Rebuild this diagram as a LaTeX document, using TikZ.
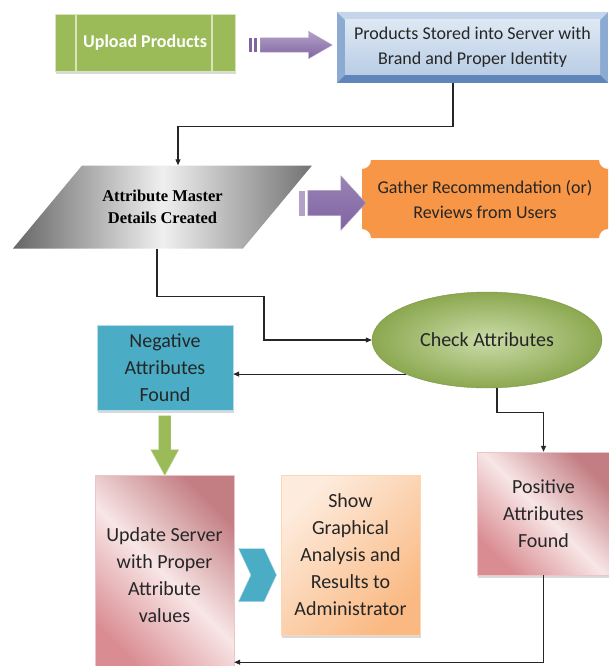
\documentclass[tikz,border=0pt]{standalone}
\usepackage{fontspec}
\setmainfont{Carlito}
\newfontfamily\serifbold{Liberation Serif}
\usetikzlibrary{shapes, shapes.arrows, shapes.symbols, arrows.meta, positioning, calc, shadows}

\definecolor{leafgreen}{RGB}{155, 187, 89}
\definecolor{leaflight}{RGB}{215, 228, 189}
\definecolor{grape}{RGB}{128, 100, 162}
\definecolor{grapelight}{RGB}{179, 162, 199}
\definecolor{skyface}{RGB}{222, 232, 244}
\definecolor{skymid}{RGB}{185, 205, 229}
\definecolor{skydeep}{RGB}{140, 170, 210}
\definecolor{skyedge}{RGB}{95, 133, 186}
\definecolor{tangerine}{RGB}{247, 150, 70}
\definecolor{teal}{RGB}{75, 172, 198}
\definecolor{teallight}{RGB}{183, 222, 232}
\definecolor{rosedeep}{RGB}{217, 140, 146}
\definecolor{roselight}{RGB}{248, 230, 230}
\definecolor{peach}{RGB}{250, 185, 130}
\definecolor{peachlight}{RGB}{253, 236, 222}
\definecolor{inkgray}{RGB}{38, 38, 38}

\begin{document}
\begin{tikzpicture}[x=1pt, y=-1pt,
  box/.style={rectangle, inner sep=2pt, align=center, text=inkgray, font=\fontsize{20}{27}\selectfont},
  topfont/.style={font=\fontsize{18}{25}\selectfont},
  softshadow/.style={drop shadow={shadow xshift=1pt, shadow yshift=-3pt, fill=black!25, opacity=0.6}},
  rosebox/.style={box, draw=rosedeep!50, left color=rosedeep, right color=rosedeep!90!black, middle color=roselight, shading angle=135, softshadow},
  link/.style={draw=black!85, line width=1.1pt, -{Triangle[length=6pt, width=5pt]}},
  blockarrow/.style={single arrow, inner sep=#1},
]
  \useasboundingbox (0,0) rectangle (608,666);

  % top row
  \node[box, font={\bfseries\fontsize{18}{25}\selectfont}, text=white, fill=leafgreen, draw=leaflight, minimum width=180pt, minimum height=57pt, softshadow,
    path picture={
      \draw[leaflight, line width=2pt] ([shift={(21,0)}]path picture bounding box.north west) -- ([shift={(21,0)}]path picture bounding box.south west);
      \draw[leaflight, line width=2pt] ([shift={(-23,0)}]path picture bounding box.north east) -- ([shift={(-23,0)}]path picture bounding box.south east);
    }] (upload) at (145,42.5) {Upload Products};
  \node[box, topfont, minimum width=271pt, minimum height=71pt, fill=skydeep,
    path picture={
      \fill[skyface!70!skydeep] (path picture bounding box.north west) -- (path picture bounding box.north east) -- ([shift={(-8,8)}]path picture bounding box.north east) -- ([shift={(8,8)}]path picture bounding box.north west) -- cycle;
      \fill[skyedge] (path picture bounding box.south west) -- (path picture bounding box.south east) -- ([shift={(-8,-8)}]path picture bounding box.south east) -- ([shift={(8,-8)}]path picture bounding box.south west) -- cycle;
      \shade[top color=skyface, bottom color=skymid] ([shift={(8,8)}]path picture bounding box.north west) rectangle ([shift={(-8,-8)}]path picture bounding box.south east);
    }] (stored) at (472.5,47.5) {Products Stored into Server with\\Brand and Proper Identity};

  \node[blockarrow=7pt, minimum height=72pt, single arrow head extend=6.5pt, single arrow tip angle=60, top color=grapelight, bottom color=grape, draw=grapelight] (push1) at ($(upload.east)!0.5!(stored.west) + (4,0)$) {};
  \fill[grape] ([shift={(-11,-7)}]push1.tail) rectangle ([shift={(-8,7)}]push1.tail);
  \fill[grape] ([shift={(-6,-7)}]push1.tail) rectangle ([shift={(-3,7)}]push1.tail);

  % second row
  \node[align=center, minimum width=299pt, minimum height=83pt, font=\serifbold\bfseries\fontsize{16.5}{22}\selectfont,
    path picture={
      \shade[left color=gray!80!black, right color=gray!90!black, middle color=gray!12]
        ([shift={(69,0)}]path picture bounding box.north west) -- (path picture bounding box.north east)
        -- ([shift={(-69,0)}]path picture bounding box.south east) -- (path picture bounding box.south west) -- cycle;
    }] (master) at (162.5,207) {Attribute Master\\Details Created};
  \node[box, topfont, minimum width=246pt, minimum height=78pt,
    path picture={
      \fill[tangerine]
        ([shift={(9,0)}]path picture bounding box.north west) -- ([shift={(-9,0)}]path picture bounding box.north east)
        arc[start angle=180, end angle=90, radius=9] -- ([shift={(0,-9)}]path picture bounding box.south east)
        arc[start angle=270, end angle=180, radius=9] -- ([shift={(9,0)}]path picture bounding box.south west)
        arc[start angle=0, end angle=-90, radius=9] -- ([shift={(0,9)}]path picture bounding box.north west)
        arc[start angle=90, end angle=0, radius=9] -- cycle;
    }] (gather) at (485,199) {Gather Recommendation (or)\\Reviews from Users};

  \node[blockarrow=12.5pt, minimum height=58pt, single arrow head extend=14.5pt, single arrow tip angle=95, top color=grape!80, bottom color=grape, draw=grapelight] (push2) at ($(master.east)!0.5!(gather.west) + (-6,0)$) {};
  \fill[grapelight] ([shift={(-9,-12.5)}]push2.tail) rectangle ([shift={(-3,12.5)}]push2.tail);

  % checking
  \node[box, ellipse, minimum width=230pt, minimum height=96pt, inner color=leaflight!80!leafgreen, outer color=leafgreen!90!black, draw=leafgreen!80!black] (check) at (487,340) {Check Attributes};
  \node[box, fill=teal, draw=teallight, minimum width=136pt, minimum height=85pt, softshadow] (negative) at (165,367.5) {Negative\\Attributes\\Found};

  % bottom row
  \node[rosebox, minimum width=139pt, minimum height=200pt] (update) at (164.5,575) {Update Server\\with Proper\\Attribute\\values};
  \node[box, minimum width=139pt, minimum height=160pt, left color=peachlight, right color=peach, shading angle=45, draw=peach!60, softshadow] (show) at (350.5,555) {Show\\Graphical\\Analysis and\\Results to\\Administrator};
  \node[rosebox, minimum width=133pt, minimum height=123pt] (positive) at (543.5,513.5) {Positive\\Attributes\\Found};

  \node[blockarrow=6pt, minimum height=60pt, single arrow head extend=8pt, single arrow tip angle=57, shape border rotate=270, fill=leafgreen, draw=leaflight] (down1) at ($(negative.south)!0.5!(update.north) + (0,-2.5)$) {};
  \node[signal, signal to=east, signal from=west, signal pointer angle=130, inner sep=0pt, minimum width=38pt, minimum height=53pt, fill=teal, draw=teallight] (chev) at ($(update.east)!0.5!(show.west |- update.east)$) {};

  % connectors
  \draw[link] ([xshift=-19.5pt]stored.south) -- ++(0,43) -| ([xshift=15.5pt]master.north);
  \draw[link] ([xshift=-5.5pt]master.south) -- ++(0,48) -- ++(107,0) |- (check.west);
  \draw[link] (check.south west) -- (check.south west -| negative.east);
  \draw[link] ([xshift=10pt]check.south) -- ++(0,24) -| (positive.north);
  \draw[link] (positive.south) -- ++(0,87) coordinate (loopback) -- (loopback -| update.east);
\end{tikzpicture}
\end{document}
